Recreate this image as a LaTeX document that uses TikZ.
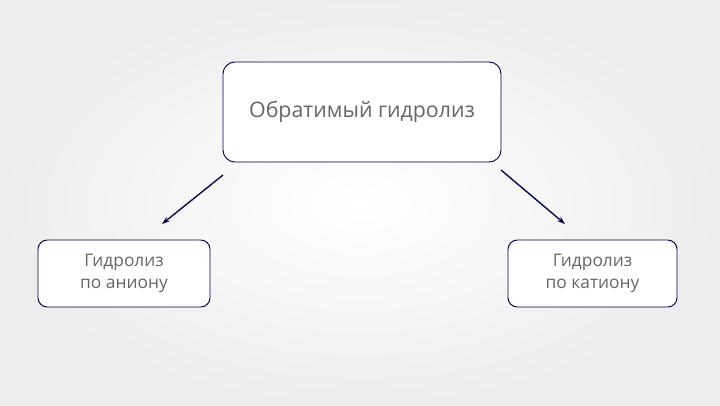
\documentclass[tikz,border=0pt]{standalone}
\usepackage{fontspec}
\setmainfont{Open Sans}
\usetikzlibrary{arrows.meta}
\begin{document}
\begin{tikzpicture}[x=0.75pt,y=-0.75pt,
  box/.style={draw=black!70!blue, line width=0.7pt, rounded corners=9pt, fill=white, align=center, text=black!60, inner sep=0pt},
  arr/.style={draw=black!70!blue, line width=1pt, -{Stealth[length=6pt,width=4pt]}}]
\shade[inner color=white, outer color=black!7] (0,0) rectangle (720,405);
\useasboundingbox (0,0) rectangle (720,405);
\node[box, minimum width=278*0.75pt, minimum height=100*0.75pt, font=\fontsize{16}{19}\selectfont] (top) at (362,112) {Обратимый гидролиз};
\node[box, rounded corners=7pt, minimum width=172*0.75pt, minimum height=67*0.75pt, font=\fontsize{13}{17}\selectfont] (l) at (124,273.5) {Гидролиз\\по аниону};
\node[box, rounded corners=7pt, minimum width=169*0.75pt, minimum height=67*0.75pt, font=\fontsize{13}{17}\selectfont] (r) at (592.5,273.5) {Гидролиз\\по катиону};
\coordinate (a1) at (223,175); \coordinate (a2) at (162,224);
\coordinate (b1) at (501,170); \coordinate (b2) at (565,224);
\draw[arr] (a1) -- (a2);
\draw[arr] (b1) -- (b2);
\end{tikzpicture}
\end{document}
